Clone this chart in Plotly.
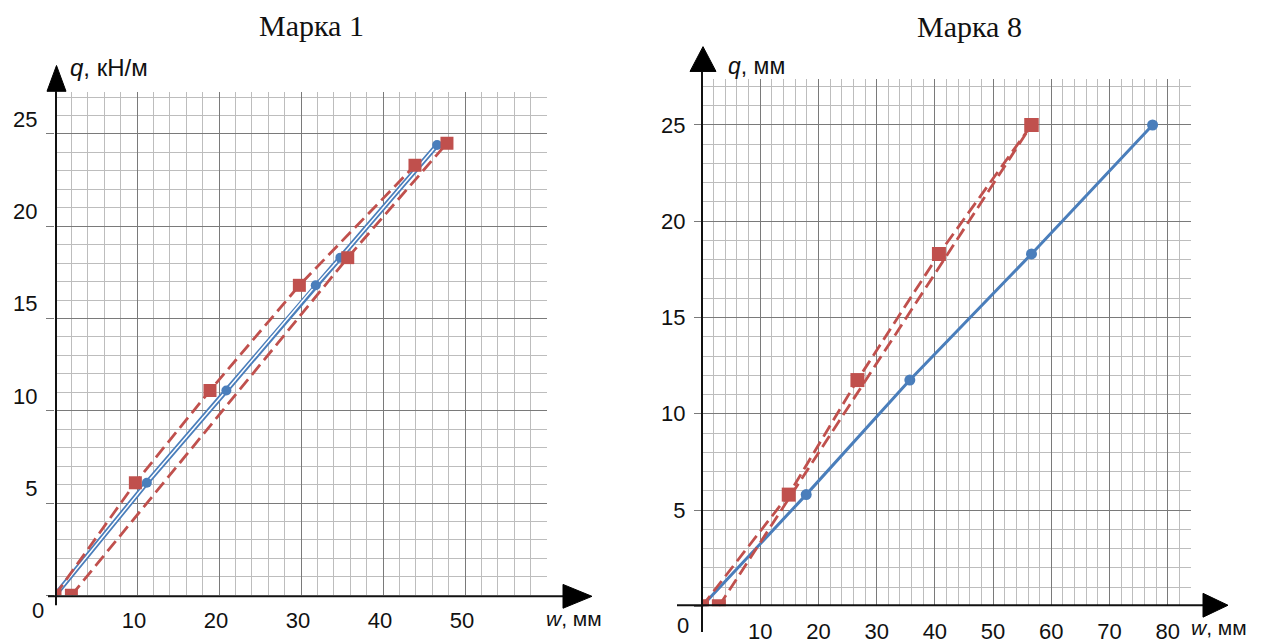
import plotly.graph_objects as go

W, H = 1262, 644

# ---------------- data: Марка 1 ----------------
m1_blue_w = [0, 11.2, 20.9, 31.8, 34.8, 46.6]
m1_blue_q = [0, 6.1, 11.1, 16.8, 18.3, 24.4]
m1_red_up_w = [0, 9.8, 18.9, 29.8, 43.9]
m1_red_up_q = [0, 6.1, 11.1, 16.8, 23.3]
m1_red_lo_w = [2.0, 35.7, 47.8]
m1_red_lo_q = [0, 18.3, 24.5]

# ---------------- data: Марка 8 ----------------
m8_blue_w = [0, 17.9, 35.7, 56.6, 77.4]
m8_blue_q = [0, 5.8, 11.75, 18.3, 25]
m8_red_up_w = [0, 14.9, 26.7, 40.7, 56.6]
m8_red_up_q = [0, 5.8, 11.75, 18.3, 25]
m8_red_lo_w = [2.9, 56.6]
m8_red_lo_q = [0, 25]

# tick labels
m1_x_ticks = [0, 10, 20, 30, 40, 50, 60]
m1_x_text = ["", "10", "20", "30", "40", "50", ""]
m8_x_ticks = [0, 10, 20, 30, 40, 50, 60, 70, 80]
m8_x_text = ["", "10", "20", "30", "40", "50", "60", "70", "80"]
q_ticks = [0, 5, 10, 15, 20, 25]
q_text = ["", "5", "10", "15", "20", "25"]

titles = ["Марка 1", "Марка 8"]
y_titles = ["<i>q</i>, кН/м", "<i>q</i>, мм"]
x_title = "<i>w</i>, мм"

BLUE = "#4a7ebb"
RED = "#c0504d"
MAJOR = "#7a7a7a"
MINOR = "#bdbdbd"
SANS = "Liberation Sans, Arial, sans-serif"
SERIF = "Liberation Serif, Times New Roman, serif"
INK = "#111111"


def px(x):
    return x / W


def py(y):
    return 1 - y / H


fig = go.Figure()

# ---- Марка 1 traces ----
fig.add_trace(go.Scatter(x=m1_blue_w, y=m1_blue_q, mode="lines", xaxis="x", yaxis="y",
                         line=dict(color=BLUE, width=5), hoverinfo="skip"))
fig.add_trace(go.Scatter(x=m1_blue_w, y=m1_blue_q, mode="lines", xaxis="x", yaxis="y",
                         line=dict(color="white", width=1.5), hoverinfo="skip"))
fig.add_trace(go.Scatter(x=m1_blue_w, y=m1_blue_q, mode="markers", xaxis="x", yaxis="y",
                         marker=dict(color=BLUE, size=10)))
for xs, ys in [(m1_red_up_w, m1_red_up_q), (m1_red_lo_w, m1_red_lo_q)]:
    fig.add_trace(go.Scatter(x=xs, y=ys, mode="lines+markers", xaxis="x", yaxis="y",
                             line=dict(color=RED, width=2.8, dash="13px,6px"),
                             marker=dict(symbol="square", size=13, color=RED)))

# ---- Марка 8 traces ----
fig.add_trace(go.Scatter(x=m8_blue_w, y=m8_blue_q, mode="lines+markers", xaxis="x2", yaxis="y2",
                         line=dict(color=BLUE, width=3), marker=dict(color=BLUE, size=11)))
for xs, ys in [(m8_red_up_w, m8_red_up_q), (m8_red_lo_w, m8_red_lo_q)]:
    fig.add_trace(go.Scatter(x=xs, y=ys, mode="lines+markers", xaxis="x2", yaxis="y2",
                             line=dict(color=RED, width=2.8, dash="13px,6px"),
                             marker=dict(symbol="square", size=14, color=RED)))

common = dict(showgrid=True, gridcolor=MAJOR, gridwidth=1, zeroline=False, showline=False,
              fixedrange=True, tickfont=dict(family=SANS, size=22, color=INK), tickmode="array")

fig.update_layout(
    width=W, height=H, margin=dict(l=0, r=0, t=0, b=0),
    paper_bgcolor="white", plot_bgcolor="white", showlegend=False,
    xaxis=dict(common, domain=[px(55), px(547)], range=[0, 60], tickvals=m1_x_ticks, ticktext=m1_x_text,
               ticks="", ticklabelstandoff=10, ticklabelshift=-3, anchor="y",
               minor=dict(showgrid=True, gridcolor=MINOR, gridwidth=1, tickmode="linear", tick0=0, dtick=2)),
    yaxis=dict(common, domain=[py(600), py(93)], range=[0, 27.26], tickvals=q_ticks, ticktext=q_text,
               ticks="outside", ticklen=8, tickcolor=MAJOR, ticklabelshift=-15, ticklabelstandoff=4, anchor="x",
               minor=dict(showgrid=True, gridcolor=MINOR, gridwidth=1, tickmode="linear", tick0=0, dtick=1)),
    xaxis2=dict(common, domain=[px(702), px(1191)], range=[0, 84], tickvals=m8_x_ticks, ticktext=m8_x_text,
                ticks="", ticklabelstandoff=10, anchor="y2",
                minor=dict(showgrid=True, gridcolor=MINOR, gridwidth=1, tickmode="linear", tick0=0, dtick=2)),
    yaxis2=dict(common, domain=[py(611), py(80)], range=[0, 27.37], tickvals=q_ticks, ticktext=q_text,
                ticks="outside", ticklen=7, tickcolor=MAJOR, ticklabelstandoff=4, anchor="x2",
                minor=dict(showgrid=True, gridcolor=MINOR, gridwidth=1, tickmode="linear", tick0=0, dtick=1)),
)

shapes = []


def line(x0, y0, x1, y1, w=2):
    shapes.append(dict(type="line", xref="paper", yref="paper", x0=px(x0), y0=py(y0), x1=px(x1), y1=py(y1),
                       line=dict(color=INK, width=w), layer="above"))


def tri(pts):
    path = "M " + " L ".join(f"{px(a)},{py(b)}" for a, b in pts) + " Z"
    shapes.append(dict(type="path", xref="paper", yref="paper", path=path, fillcolor="black",
                       line=dict(color="black", width=1), layer="above"))


# left axes
line(56, 610, 56, 92)
line(48, 601, 565, 601)
tri([(47, 92), (66, 92), (56.5, 66)])
tri([(563, 589), (563, 613), (592, 601)])
# right axes
line(702, 637, 702, 72)
line(677, 610, 1205, 610)
tri([(690, 72), (716, 72), (703, 47)])
tri([(1203, 598), (1203, 622), (1228, 610)])

fig.update_layout(shapes=shapes)

ann = []


def text(x, y, s, size=22, family=SANS, xanchor="center"):
    ann.append(dict(x=px(x), y=py(y), xref="paper", yref="paper", text=s, showarrow=False,
                    xanchor=xanchor, yanchor="middle", font=dict(family=family, size=size, color=INK)))


text(311, 26, titles[0], size=30, family=SERIF)
text(969, 27, titles[1], size=30, family=SERIF)
text(68, 68, y_titles[0], size=24, xanchor="left")
text(726, 67, y_titles[1], size=23, xanchor="left")
text(544, 623, x_title, size=21, xanchor="left")
text(1189, 632, x_title, size=21, xanchor="left")
text(38, 615, "0")
text(683, 630, "0")

fig.update_layout(annotations=ann)

fig.write_html("out.html", config={"displayModeBar": False},
               post_script="document.body.style.margin='0';")
